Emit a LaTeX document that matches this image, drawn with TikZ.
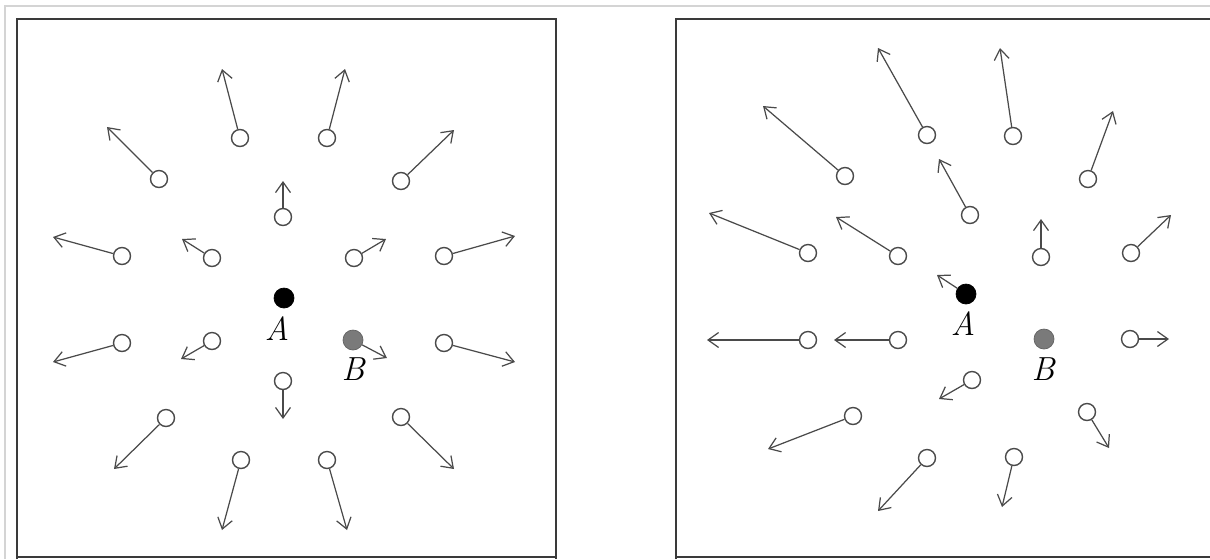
\documentclass[tikz,border=0pt]{standalone}
\usetikzlibrary{arrows.meta}
\definecolor{framec}{HTML}{3A3A3A}
\definecolor{linec}{HTML}{4A4A4A}
\definecolor{outerc}{HTML}{D4D4D4}
\definecolor{bdot}{HTML}{7A7A7A}
\tikzset{
  oc/.style={circle,draw=linec,line width=0.8pt,fill=white,inner sep=0pt,minimum size=0.34cm},
  adot/.style={circle,fill=black,draw=black,inner sep=0pt,minimum size=0.4cm},
  bdotst/.style={circle,fill=bdot,draw=bdot!80!black,inner sep=0pt,minimum size=0.4cm},
  arr/.style={draw=linec,line width=0.7pt,-{Straight Barb[length=6pt,width=8.5pt]}},
  lab/.style={font=\fontsize{19}{22}\selectfont\itshape,inner sep=0pt},
  panel/.style={draw=framec,line width=1.3pt},
}
\begin{document}
\begin{tikzpicture}[x=0.02cm,y=-0.02cm]
\useasboundingbox (0,0) rectangle (1210,559);
\fill[white] (0,0) rectangle (1210,559);
% outer window edges
\draw[outerc,line width=1.5pt] (5,559) -- (5,6) -- (1210,6);
% panels
\draw[panel] (17,559) -- (17,19) -- (556,19) -- (556,559);
\draw[panel] (676,559) -- (676,19) -- (1212,19);
\draw[panel] (17,557) -- (556,557);
\draw[panel] (676,557) -- (1212,557);
% left panel
\foreach \n/\x/\y/\ex/\ey in {
  l1/240/138/222/69, l2/327/138/345/69, l3/159/179/107/127, l4/401/181/454/130,
  l5/283/217/283/181, l6/122/256/53/237, l7/212/258/182/239, l8/354/258/386/239,
  l9/444/256/515/236, l10/122/343/53/362, l11/212/341/181/359, l12/444/343/515/362,
  l13/283/381/283/419, l14/166/418/114/469, l15/401/417/454/469, l16/241/460/222/530,
  l17/327/460/347/530}
{
  \node[oc] (\n) at (\x,\y) {};
  \coordinate (\n e) at (\ex,\ey);
  \draw[arr] (\n) -- (\n e);
}
\node[adot] (lA) at (284,298) {};
\node[lab] (lAl) at (277,329) {A};
\node[bdotst] (lB) at (353,340) {};
\coordinate (lBe) at (387,358);
\draw[arr] (lB) -- (lBe);
\node[lab] (lBl) at (353,369) {B};
% right panel
\foreach \n/\x/\y/\ex/\ey in {
  r1/927/135/878/48, r2/1013/136/1000/48, r3/845/176/763/106, r4/1088/179/1113/111,
  r5/970/215/939/159, r6/808/253/709/213, r7/898/256/836/217, r8/1041/257/1041/219,
  r9/1131/253/1171/215, r10/808/340/707/340, r11/898/340/834/340, r12/1130/339/1169/339,
  r13/972/380/939/399, r14/853/416/768/449, r15/1087/412/1109/448, r16/927/458/878/511,
  r17/1014/457/1002/507}
{
  \node[oc] (\n) at (\x,\y) {};
  \coordinate (\n e) at (\ex,\ey);
  \draw[arr] (\n) -- (\n e);
}
\node[adot] (rA) at (966,294) {};
\coordinate (rAe) at (937,275);
\draw[arr] (rA) -- (rAe);
\node[lab] (rAl) at (963,324) {A};
\node[bdotst] (rB) at (1044,339) {};
\node[lab] (rBl) at (1043,369) {B};
\end{tikzpicture}
\end{document}
